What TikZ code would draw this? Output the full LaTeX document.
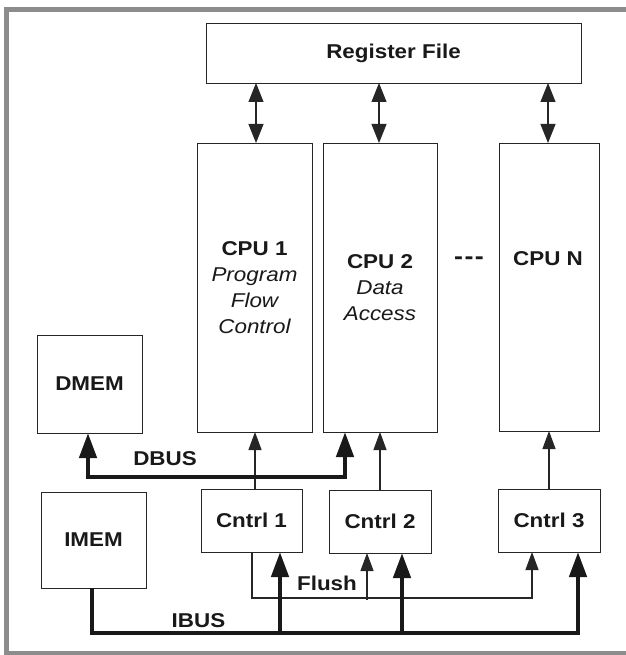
\documentclass[tikz,border=0pt]{standalone}
\usepackage{fontspec}
\setmainfont[FakeStretch=1.12]{Liberation Sans}
\usetikzlibrary{arrows.meta}
\begin{document}
\begin{tikzpicture}[x=1pt,y=-1pt,
  box/.style={draw=black!85,line width=0.9pt,inner sep=0pt,outer sep=0pt,text=black!90,
    font=\fontsize{20}{26}\selectfont,align=center},
  lbl/.style={inner sep=0pt,text=black!90,font=\fontsize{20}{26}\selectfont\bfseries},
  dblarrow/.style={line width=1.1pt,draw=black!85,
    {Triangle[length=19pt,width=15pt]}-{Triangle[length=19pt,width=15pt]}},
  thinarrow/.style={line width=1.1pt,draw=black!85,-{Triangle[length=18pt,width=13pt]}},
  busline/.style={line width=4.5pt,draw=black!90,line join=miter},
  busarrow/.style={busline,-{Triangle[length=25pt,width=17pt]}},
  busboth/.style={busline,{Triangle[length=25pt,width=17pt]}-{Triangle[length=25pt,width=17pt]}}
]
\useasboundingbox (0,0) rectangle (625,655);
\fill[white] (0,0) rectangle (625,655);
\draw[black!45,line width=4.5pt] (6.5,9.5) rectangle (650,653.5);

% boxes
\node[box,minimum width=375pt,minimum height=60pt] (rf) at (393.5,53) {\bfseries Register File};
\node[box,minimum width=115pt,minimum height=289pt] (cpu1) at (254.5,287.5)
  {\bfseries CPU 1\\\itshape Program\\\itshape Flow\\\itshape Control};
\node[box,minimum width=114pt,minimum height=289pt] (cpu2) at (380,287.5)
  {\bfseries CPU 2\\\itshape Data\\\itshape Access};
\node[box,minimum width=100pt,minimum height=288pt] (cpun) at (549,287) {};
\node[lbl] (cpuntxt) at (548,259) {CPU N};
\node[lbl,font=\fontsize{24}{24}\selectfont\bfseries] (dots) at (469,261)
  {-\hspace{1.5pt}-\hspace{1.5pt}-};
\node[box,minimum width=105pt,minimum height=98pt] (dmem) at (89.5,384) {\bfseries DMEM};
\node[box,minimum width=105pt,minimum height=96pt] (imem) at (93.5,540) {\bfseries IMEM};
\node[box,minimum width=101pt,minimum height=63pt] (c1) at (251.5,520.5) {\bfseries Cntrl 1};
\node[box,minimum width=102pt,minimum height=63pt] (c2) at (380,521.5) {\bfseries Cntrl 2};
\node[box,minimum width=102pt,minimum height=63pt] (c3) at (549,520.5) {\bfseries Cntrl 3};

% register file <-> CPUs
\draw[dblarrow] (rf.south -| 256,0) -- (cpu1.north -| 256,0);
\draw[dblarrow] (rf.south -| 379,0) -- (cpu2.north -| 379,0);
\draw[dblarrow] (rf.south -| 548,0) -- (cpun.north -| 548,0);

% control -> CPU
\draw[thinarrow] (c1.north -| 255,0) -- (cpu1.south -| 255,0);
\draw[thinarrow] (c2.north -| 380,0) -- (cpu2.south -| 380,0);
\draw[thinarrow] (c3.north -| 549,0) -- (cpun.south -| 549,0);

% DBUS
\coordinate (dbl) at (88,477);
\coordinate (dbr) at (345,477);
\draw[busboth] (dmem.south -| dbl) -- (dbl) -- (dbr) -- (cpu2.south -| dbr);
\node[lbl] (dbus) at (165,459) {DBUS};

% Flush
\coordinate (fl) at (252,598);
\coordinate (fr) at (532,598);
\coordinate (fm) at (367,599.5);
\draw[thinarrow] (c1.south -| fl) -- (fl) -- (fr) -- (c3.south -| fr);
\draw[thinarrow] (fm) -- (c2.south -| fm);
\node[lbl] (flush) at (327,583) {Flush};

% IBUS
\coordinate (ibl) at (92,633);
\coordinate (ibr) at (578,633);
\coordinate (ib1) at (280,633);
\coordinate (ib2) at (402,633);
\draw[busarrow] (imem.south -| ibl) -- (ibl) -- (ibr) -- (c3.south -| ibr);
\draw[busarrow] (ib1) -- (c1.south -| ib1);
\draw[busarrow] (ib2) -- (c2.south -| ib2);
\node[lbl] (ibus) at (198.5,621) {IBUS};
\end{tikzpicture}
\end{document}
